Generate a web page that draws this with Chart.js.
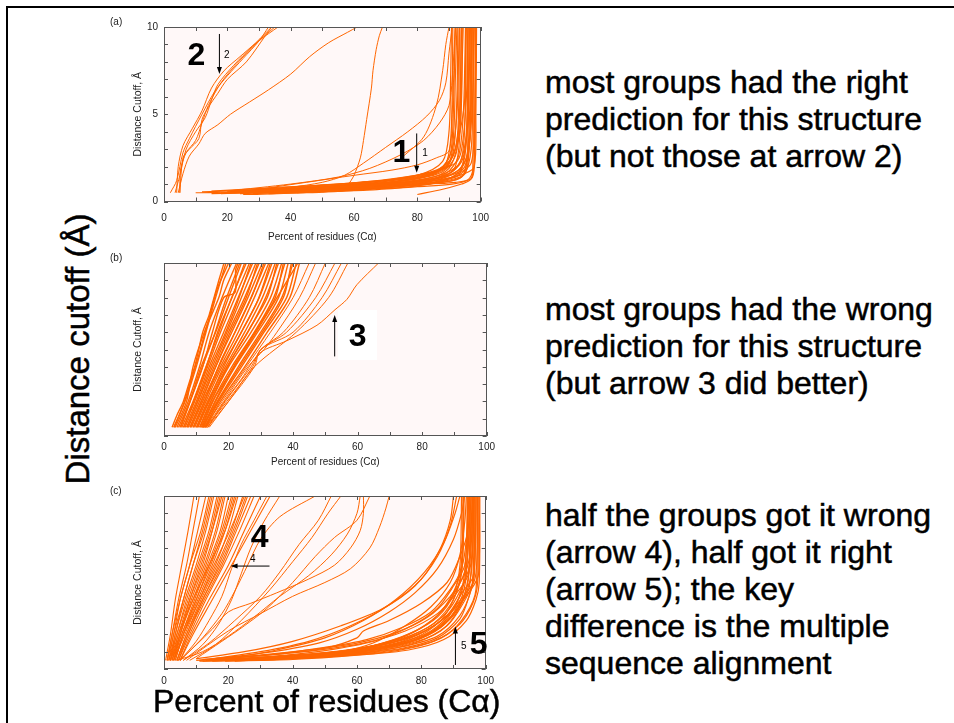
<!DOCTYPE html>
<html>
<head>
<meta charset="utf-8">
<script src="https://cdn.jsdelivr.net/npm/chart.js@4.4.1/dist/chart.umd.min.js"></script>
<style>
  body { margin: 0; width: 954px; height: 723px; background: #fff; overflow: hidden; position: relative;
         font-family: "Liberation Sans", Arial, sans-serif; }
  .frame { position: absolute; left: 6px; top: 6px; width: 960px; height: 730px;
           border-top: 2px solid #000; border-left: 2px solid #000; }
  canvas { position: absolute; left: 100px; }
  #ca { top: 0; }
  #cb { top: 250px; }
  #cc { top: 480px; }
  .ytitle { position: absolute; left: -72px; top: 329px; width: 300px; height: 40px; line-height: 40px;
            text-align: center; font-size: 33px; transform: rotate(-90deg); white-space: nowrap;
            -webkit-text-stroke: 0.5px #000; }
  .xtitle { position: absolute; left: 153px; top: 681px; height: 40px; line-height: 40px;
            font-size: 32px; white-space: nowrap; -webkit-text-stroke: 0.5px #000; }
  .note { position: absolute; left: 545px; font-size: 32px; line-height: 37px; color: #000; white-space: nowrap;
          -webkit-text-stroke: 0.5px #000; }
</style>
</head>
<body>
<div class="frame"></div>
<canvas id="ca" width="400" height="250"></canvas>
<canvas id="cb" width="400" height="230"></canvas>
<canvas id="cc" width="400" height="243"></canvas>
<div class="ytitle">Distance cutoff (Å)</div>
<div class="xtitle">Percent of residues (Cα)</div>
<div class="note" style="top:64px">most groups had the right<br>prediction for this structure<br>(but not those at arrow 2)</div>
<div class="note" style="top:291px">most groups had the wrong<br>prediction for this structure<br>(but arrow 3 did better)</div>
<div class="note" style="top:497px">half the groups got it wrong<br>(arrow 4), half got it right<br>(arrow 5); the key<br>difference is the multiple<br>sequence alignment</div>
<script>
// axis ticks
const xTickLabels = [0, 20, 40, 60, 80, 100];
const yTickLabelsA = [0, 5, 10];
const xFrameTicks = [0, 10, 20, 30, 40, 50, 60, 70, 80, 90, 100];
const yFrameTicks = [0, 1, 2, 3, 4, 5, 6, 7, 8, 9, 10];

// (a) percent of residues vs distance cutoff, one curve per group
const aArrow2 = [
  [[2,0.5],[4,1.2],[6,2.8],[8,3.6],[12,5],[16,6.3],[20,7.2],[25,8.2],[30,9.2],[33,10]],
  [[4,0.5],[4.5,2],[6,3.2],[9,4.2],[12,5.2],[15,6.5],[19,7.5],[24,8.3],[29,9.1],[34,10]],
  [[3.5,0.5],[5,1.5],[7,3],[10,4],[13,4.8],[15,5.8],[17,6.7],[22,7.8],[28,8.9],[35,10]],
  [[5,0.5],[5.2,1.8],[7,2.8],[10,3.5],[12,4.5],[14,5.5],[18,6.8],[23,7.9],[30,9.2],[36,10]],
  [[4.5,0.5],[6,1.6],[8,2.6],[11,3.3],[13,3.9],[17,4.4],[21,5],[27,5.7],[33,6.4],[40,7.3],[46,8.3],[52,9.1],[58,9.7],[61,10]],
  [[5,0.5],[6,2.5],[8,3],[11,3.6],[12,4.7],[14,5.4],[17,6.2],[20,7],[26,8],[32,9.5],[34,10]]
];
const aMiddle = [
  [[58,0.9],[60,1.5],[62,2.5],[63,3.5],[64,4.7],[65.5,6.5],[66,7.5],[67,8.7],[68,9.5],[69,10]],
  [[40,0.8],[50,1.1],[57,1.5],[63,2.2],[70,3.1],[77,4],[83,4.9],[87,5.8],[89,6.8],[90,8.5],[91,10]],
  [[30,0.7],[45,1.1],[60,1.5],[72,1.8],[80,2.1],[86,2.5],[90,2.9],[91,5],[92,10]],
  [[20,0.6],[40,1],[55,1.4],[65,1.9],[75,2.7],[82,3.5],[87,4.5],[90,5.5],[91,7],[92,10]],
  [[75,2.5],[82,3.7],[86,5.5],[88,7.5],[89,9],[90,10]]
];
const aBundle = [
  [[10,0.5],[30,0.6],[50,0.8],[70,1],[85,1.2],[93,1.5],[95,3],[96,6],[96.5,10]],
  [[15,0.45],[35,0.55],[55,0.7],[75,0.9],[88,1.1],[94,1.4],[96,2.5],[97,5],[97.2,10]],
  [[20,0.5],[40,0.65],[60,0.85],[78,1.1],[88,1.4],[92,2],[93.5,4],[94,7],[94.5,10]],
  [[25,0.4],[45,0.5],[65,0.7],[80,0.9],[90,1.3],[95,1.8],[96,4],[96.5,8],[96.8,10]],
  [[12,0.55],[32,0.7],[52,0.95],[70,1.2],[84,1.5],[90,2.2],[91.5,4],[92,7],[92.5,10]],
  [[28,0.45],[48,0.6],[68,0.8],[82,1],[91,1.2],[95,1.6],[97,3],[97.5,6],[97.8,10]],
  [[22,0.5],[42,0.6],[62,0.75],[79,1],[89,1.6],[93,2.6],[94.5,5],[95,8],[95.2,10]],
  [[35,0.5],[55,0.65],[72,0.85],[85,1.1],[92,1.5],[95.5,2.5],[96.5,5],[97,10]],
  [[18,0.5],[38,0.7],[58,0.9],[76,1.2],[87,1.8],[91,3],[92.5,5],[93,8],[93.3,10]],
  [[30,0.55],[50,0.75],[68,1],[83,1.3],[90,1.9],[93,3.5],[94,6],[94.2,10]],
  [[25,0.6],[45,0.8],[65,1.1],[80,1.5],[88,2.3],[90,4],[90.5,7],[90.8,10]],
  [[40,0.6],[60,0.8],[75,1],[86,1.3],[93,1.8],[96,2.8],[97.5,6],[98,10]],
  [[15,0.6],[35,0.8],[55,1],[72,1.3],[85,1.7],[92,2.2],[94,3],[95.5,6],[96,10]],
  [[33,0.45],[53,0.6],[70,0.8],[84,1],[92,1.1],[97,1.3],[98,2],[98.3,6],[98.5,10]],
  [[20,0.55],[40,0.75],[60,1],[75,1.35],[86,1.8],[91,2.5],[92.5,3.5],[93.5,5],[93.8,10]],
  [[45,0.7],[62,0.9],[77,1.15],[87,1.5],[93,2.1],[95,3.2],[96,4.5],[96.2,7],[96.4,10]],
  [[27,0.5],[47,0.7],[66,0.95],[81,1.2],[90,1.6],[94,2.3],[95.5,3.5],[96,5],[95.8,7.5],[96,10]],
  [[38,0.55],[58,0.75],[74,1],[85,1.3],[91,1.7],[94,2.5],[95,4.5],[95.5,10]],
  [[50,0.8],[65,1],[78,1.3],[86,1.7],[90,2.5],[91,3.5],[91.5,6],[92,10]],
  [[55,0.7],[70,0.9],[82,1.1],[90,1.35],[95,1.6],[98,2],[98.5,5],[98.7,10]],
  [[80,0.4],[88,0.7],[94,1],[97,1.3],[98,2.5],[98.3,10]],
  [[30,0.65],[50,0.85],[67,1.05],[80,1.3],[88,1.7],[92,2.6],[93,4],[93.5,6],[94,10]],
  [[60,0.9],[72,1.1],[83,1.5],[89,2],[92,3],[94,4.5],[95,6],[95.3,10]],
  [[42,0.5],[62,0.7],[78,0.95],[88,1.2],[94,1.7],[97,2.2],[98,4],[98.5,10]],
  [[24,0.45],[44,0.55],[64,0.65],[80,0.85],[91,1],[96,1.25],[97.5,1.8],[97.5,10]],
  [[22,0.6],[42,0.85],[62,1.1],[78,1.4],[88,1.9],[92,3],[93,5],[93.3,10]],
  [[32,0.5],[52,0.7],[70,0.95],[84,1.25],[92,1.6],[95,2],[96.5,3.5],[97,6],[97.3,10]],
  [[18,0.45],[38,0.6],[58,0.75],[76,0.95],[88,1.15],[94.5,1.5],[96,2.2],[96.8,5],[97,10]],
  [[26,0.55],[46,0.75],[66,1],[81,1.35],[89,1.9],[91.5,3],[92.5,6],[92.8,10]],
  [[50,0.55],[66,0.75],[80,1],[89,1.4],[94,2],[95.5,3.5],[96,10]],
  [[36,0.65],[56,0.9],[72,1.2],[84,1.6],[89,2.2],[90.5,3.5],[91,6],[91.2,10]]
];

// (b)
const bBand = [
  [[2.5,0.5],[4,1.2],[6,2],[8,3.2],[9.5,4],[11,5.2],[12,6],[14,7],[15.5,8],[17,9],[18.6,10]],
  [[3,0.5],[6.5,2],[10,4],[13,6],[16,8],[19.2,10]],
  [[3.2,0.5],[6,1.8],[8,3],[10.5,4.5],[13.5,6.5],[16.5,8.5],[20,10]],
  [[3.5,0.5],[7,2],[9,4],[12.5,6],[17,8],[18.5,9],[21,10]],
  [[4,0.5],[7.5,2],[11,4],[14,6],[18,8],[22.5,10]],
  [[4.5,0.5],[8,2],[12,4],[15,6],[18.5,8],[22,8.3],[22.2,9.6],[23,10]],
  [[5,0.5],[8,2],[11.5,4],[16,6],[20,8],[24,10]],
  [[5.2,0.5],[8.5,2.2],[12.5,4.3],[15.5,5.8],[19,7.8],[23.5,10]],
  [[5.5,0.5],[9,2],[13,4],[17,6],[21,8],[25.5,10]],
  [[6,0.5],[9.5,2],[13.5,4],[17.5,6],[22,8],[26.5,10]],
  [[6.2,0.5],[9.2,2],[12.8,3.8],[17,6.2],[21.5,8.2],[25,10]],
  [[6.5,0.5],[10,2],[14,4],[18.5,6],[23,8],[27.5,10]],
  [[7,0.5],[10.5,2],[15,4],[19.5,6],[24,8],[28.5,10]],
  [[7.2,0.5],[10.8,2.2],[14.5,4],[18,5.5],[22.5,7.6],[27,10]],
  [[7.5,0.5],[11,2],[15.5,4],[20,6],[25,8],[29.5,10]],
  [[8,0.5],[11.5,2],[16,4],[21,6],[26,8],[30.5,10]],
  [[8.2,0.5],[11.8,2.1],[16.5,4.2],[20.5,6],[25.5,8],[29,10]],
  [[8.5,0.5],[12,2],[17,4],[22,6],[27,8],[31.5,10]],
  [[9,0.5],[12.5,2],[17.5,4],[23,6],[28,8],[32.5,10]],
  [[9.2,0.5],[13,2.2],[18,4.5],[22,6],[27.5,8.2],[31,10]],
  [[9.5,0.5],[13,2],[18,4],[24,6],[29.5,8],[33.5,10]],
  [[10,0.5],[13.5,2],[19,4],[25,6],[30.5,8],[34.5,10]],
  [[10.2,0.5],[13.8,2],[18.5,4],[24.5,6.2],[29,7.8],[33,10]],
  [[10.5,0.5],[14,2],[19.5,4],[26,6],[31.5,8],[35.5,10]],
  [[11,0.5],[14.5,2],[20,4],[27,6],[33,8],[36.5,10]],
  [[11.2,0.5],[15,2.2],[20.5,4.3],[26.5,6.2],[32,8],[35,10]],
  [[11.5,0.5],[15,2],[21,4],[28,6],[34,8],[37.5,10]],
  [[11.8,0.5],[16,2.3],[22.5,4.2],[29.5,6.3],[36,8.3],[41.5,10]],
  [[12,0.5],[16,2],[22,4],[29,6],[35.5,8],[38.5,10]],
  [[12,0.5],[16.5,2],[23,4],[30,6],[36.5,8],[40,10]],
  [[12.2,0.5],[15.8,2],[21.5,4],[28.5,6.1],[34.5,8],[37,10]],
  [[12.5,0.5],[17,2],[24,4],[31,6],[38,8],[41,10]],
  [[12.8,0.5],[17,2.1],[23.5,4],[30.5,6],[37,8],[39.5,10]],
  [[13,0.5],[17.5,2],[25,4],[32,6],[39,8],[42,10]]
];
const bFringe = [
  [[12.5,0.5],[18,2],[25.5,4],[33,6],[40,8],[45,10]],
  [[13,0.5],[18.5,2],[26,4],[31,5],[35,6],[42,8],[47,10]],
  [[13.5,0.5],[19,2],[27,4],[30,5],[37,6],[45,8],[50,10]],
  [[13,0.5],[19.5,2],[27.5,4],[30,5],[38,6],[47,8],[53,10]],
  [[13.5,0.5],[20,2],[28,4],[30,5],[40,6],[49,8],[55,10]],
  [[14,0.5],[20,2],[28,4],[41,6],[51,8],[57,10]]
];
const bArrow3 = [
  [[13.6,0.5],[18,1.8],[24,3.3],[29.7,4.8],[38,5.5],[47.4,6.4],[53,7.3],[56.7,7.9],[59.8,8.75],[66.5,10]]
];

// (c)
const cWrong = [
  [[0.5,0.5],[2,2],[3.5,4],[5.5,6],[7.5,8],[9.3,10]],
  [[1,0.5],[2.5,2],[4.5,4],[7,6],[9,8],[11,10]],
  [[1,0.5],[3,2],[5,4],[8,6],[10.5,8],[13,10]],
  [[1.5,0.5],[3,2],[6,4],[9,6],[12,8],[14.5,10]],
  [[1.5,0.5],[3.5,2],[6,4],[9,6],[12.5,8],[15,10]],
  [[2,0.5],[3.5,2],[6.5,4],[10,6],[13,8],[15.5,10]],
  [[1.5,0.5],[4,2],[7,4],[10.5,6],[14,8],[16.5,10]],
  [[2,0.5],[4,2],[7.5,4],[11,6],[14.5,8],[17,10]],
  [[2.5,0.5],[4.5,2],[8,4],[12,6],[15,8],[17.5,10]],
  [[2.5,0.5],[5,2],[8,4],[11.5,6],[15,8],[18,10]],
  [[2,0.5],[5,2],[8.5,4],[12.5,6],[16,8],[18.5,10]],
  [[3,0.5],[5,2],[9,4],[13,6],[16.5,8],[19,10]],
  [[2.5,0.5],[5.5,2],[9.5,4],[13.5,6],[17.5,8],[20,10]],
  [[3,0.5],[5.5,2],[10,4],[14,6],[18,8],[21,10]],
  [[3.5,0.5],[6,2],[10,4],[14.5,6],[18.5,8],[21.5,10]],
  [[3.5,0.5],[6,2],[10.5,4],[15,6],[19,8],[22,10]],
  [[3,0.5],[6.5,2],[11,4],[16,6],[20,8],[23,10]],
  [[4,0.5],[7,2],[11.5,4],[16.5,6],[21,8],[24.5,10]],
  [[4,0.5],[7,2],[12,4],[17,6],[21.5,8],[25.5,10]],
  [[4,0.5],[7.5,2],[12,4],[17.5,6],[22,8],[26,10]],
  [[4.5,0.5],[7.5,2],[12.5,4],[18,6],[22.5,8],[27,10]],
  [[4.5,0.5],[8,2],[13,4],[18.5,6],[23.5,8],[28,10]],
  [[5,0.5],[8.5,2],[14,4],[20,6],[25,8],[30,10]],
  [[5,0.5],[9,2],[15,4],[21,6],[27,8],[33,10]],
  [[1,0.5],[2.5,2],[5,4],[8,6],[11.5,8],[14,10]],
  [[2,0.5],[4.5,2],[9,4],[14,6],[19,8],[22.5,10]],
  [[3,0.5],[6,2],[11,4],[15.5,6],[20.5,8],[25,10]]
];
const cMiddle = [
  [[5,0.5],[12,1.8],[18,3.2],[22,4.5],[26,6],[30,7.5],[36,8.8],[47,10]],
  [[6,0.5],[14,1.5],[22,2.8],[30,4.2],[36,5.6],[42,7.2],[48,8.6],[52,10]],
  [[5,0.5],[15,2.3],[20,3.3],[27,3.8],[35,4.4],[45,5.2],[53,6],[58,7],[61,8],[62,9],[62,10]],
  [[7,0.5],[20,2.2],[30,3.2],[40,4.2],[50,5],[58,5.8],[64,7],[67,8.2],[69,9.3],[70,10]],
  [[8,0.5],[16,1.4],[24,2.8],[33,4.6],[40,6.2],[46,7.6],[51,9],[55,10]],
  [[10,0.6],[18,1.6],[25,2.5],[32,3.5],[40,5],[47,6.5],[53,7.6],[60,8.6],[64,10]],
  [[6,0.5],[12,1.4],[17,2.6],[21,4],[24,5.5],[27,7],[31,8.5],[36,10]],
  [[5,0.5],[10,1.6],[14,2.8],[18,4.2],[21,5.8],[24,7.2],[28,8.6],[32,10]],
  [[4,0.5],[12,1],[20,1.9],[28,3],[36,4.2],[45,5.4],[52,6.6],[57,7.8],[60,9],[61,10]]
];
const cRight = [
  [[11,0.45],[30,0.55],[50,0.75],[65,1],[78,1.5],[88,2.5],[93,3.8],[96,5],[96.5,7],[96.7,10]],
  [[12,0.45],[32,0.6],[52,0.85],[68,1.2],[80,1.8],[89,2.9],[93.5,4.2],[95.5,5.5],[96,7.5],[96.2,10]],
  [[14,0.5],[34,0.65],[54,0.9],[70,1.3],[82,2],[90,3.2],[94,4.6],[95,6],[95.5,10]],
  [[15,0.45],[35,0.55],[55,0.75],[72,1.05],[84,1.6],[92,2.6],[96,3.8],[97.5,5],[97.7,10]],
  [[18,0.5],[38,0.7],[57,1],[72,1.45],[83,2.2],[90,3.5],[93,5],[94,7],[94.3,10]],
  [[20,0.5],[40,0.6],[58,0.85],[74,1.2],[85,1.8],[92,2.9],[95,4.3],[96.5,5.5],[97,10]],
  [[22,0.45],[42,0.65],[60,0.95],[75,1.4],[86,2.2],[92,3.6],[94.5,5.2],[95,7],[95.2,10]],
  [[16,0.55],[36,0.75],[55,1.05],[70,1.55],[82,2.4],[89,3.7],[92,5.2],[93,7],[93.3,10]],
  [[25,0.5],[45,0.7],[62,1],[76,1.5],[86,2.4],[92,3.9],[94,5.5],[94.5,10]],
  [[13,0.5],[33,0.7],[52,0.95],[67,1.35],[79,2],[88,3.1],[93,4.5],[96,5.3],[96.8,7],[97,10]],
  [[28,0.55],[47,0.75],[64,1.1],[78,1.7],[87,2.7],[92,4.2],[94,5.8],[95.5,10]],
  [[19,0.45],[40,0.55],[60,0.8],[76,1.1],[87,1.7],[94,2.8],[97,4],[98,5],[98.2,10]],
  [[24,0.5],[44,0.65],[63,0.9],[78,1.3],[88,2],[94,3.2],[97,4.6],[97.3,10]],
  [[30,0.55],[50,0.8],[65,1.15],[78,1.8],[86,2.8],[90,4],[92.5,5.5],[93,8],[93,10]],
  [[17,0.5],[37,0.6],[57,0.85],[73,1.25],[85,1.9],[92,3.1],[95.5,4.6],[96.2,6],[96.5,10]],
  [[26,0.6],[46,0.85],[63,1.25],[75,1.9],[84,2.9],[89,4.1],[92,5.5],[92.8,7.5],[93,10]],
  [[35,0.65],[52,0.95],[66,1.4],[77,2.1],[85,3],[90,4.3],[92,6],[92.5,10]],
  [[21,0.55],[41,0.75],[61,1.05],[76,1.55],[86,2.4],[91,3.4],[95,4.8],[96,10]],
  [[14,0.55],[30,0.8],[45,1.1],[60,1.5],[72,2.1],[82,3],[89,4.2],[93,5.3],[95,6.5],[95.8,10]],
  [[18,0.6],[34,0.85],[50,1.25],[63,1.7],[74,2.4],[83,3.3],[89,4.6],[92.5,5.8],[94,7.5],[94.6,10]],
  [[22,0.55],[38,0.8],[53,1.15],[66,1.65],[77,2.5],[85,3.5],[90,4.8],[93.5,6],[94.8,10]],
  [[16,0.5],[36,0.7],[54,1],[68,1.4],[80,2.1],[88,3.1],[93,4.2],[96.5,5.1],[97.3,6.5],[97.5,10]],
  [[27,0.5],[45,0.75],[61,1.1],[74,1.6],[84,2.5],[91,3.6],[95.5,4.6],[97.8,5.5],[98,10]],
  [[32,0.6],[50,0.9],[64,1.3],[76,2],[85,3.1],[91,4.6],[94,6],[94.8,8],[95,10]],
  [[11,0.5],[28,0.75],[46,1.05],[62,1.5],[75,2.2],[85,3.2],[91,4.4],[94.5,5.4],[96,7],[96.3,10]],
  [[10,0.6],[25,1],[40,1.6],[55,2.5],[68,3.5],[78,4.8],[85,6.5],[89,8.3],[91,10]],
  [[15,0.6],[30,1],[45,1.6],[58,2.5],[70,3.7],[80,5.2],[86,7],[89,8.6],[90,10]],
  [[20,0.6],[35,1.1],[50,1.8],[62,2.8],[72,4],[81,5.6],[87,7.3],[90.5,9],[92,10]],
  [[10,0.5],[30,0.9],[48,1.5],[60,2.3],[70,3.3],[78,4.4],[85,5.8],[90,7.5],[92.5,9],[93.5,10]],
  [[40,0.7],[55,1],[65,1.5],[75,2.5],[83,3.6],[89,5],[92,6.6],[93.5,8.5],[94,10]],
  [[12,0.55],[35,0.85],[50,1.2],[60,1.8],[62,2.2],[70,2.8],[80,3.8],[88,5],[92,6.5],[94.5,8],[95,10]],
  [[45,0.75],[60,1.1],[72,1.6],[82,2.4],[88,3.3],[92,4.5],[95,6],[96,10]]
];

// annotations, in data units: arrows [x1, y1, x2(head), y2(head)], labels [text, x, y]
const notesA = {
  label: '(a)',
  arrows: [[17.5, 9.6, 17.5, 7.3], [79.8, 3.9, 79.8, 1.65]],
  big: [['2', 10.2, 8.3], ['1', 75, 2.75]],
  small: [['2', 19.8, 8.4], ['1', 82.4, 2.77]],
  boxes: []
};
const notesB = {
  label: '(b)',
  arrows: [[52.9, 4.6, 52.9, 7.0]],
  big: [['3', 60, 5.7]],
  small: [],
  boxes: [[53.9, 7.28, 66, 4.39]]
};
const notesC = {
  label: '(c)',
  arrows: [[32.8, 5.95, 20.7, 5.95], [90.6, 0.23, 90.6, 2.45]],
  big: [['4', 29.7, 7.57], ['5', 97.8, 1.39]],
  small: [['4', 27.6, 6.36], ['5', 93.2, 1.29]],
  boxes: []
};

const FONT = '"Liberation Sans", Arial, sans-serif';
const ORANGE = '#ff6600';

function drawArrow(ctx, x1, y1, x2, y2) {
  const a = Math.atan2(y2 - y1, x2 - x1), c = Math.cos(a), s = Math.sin(a);
  ctx.beginPath();
  ctx.moveTo(x1, y1);
  ctx.lineTo(x2 - 5 * c, y2 - 5 * s);
  ctx.stroke();
  ctx.beginPath();
  ctx.moveTo(x2, y2);
  ctx.lineTo(x2 - 7 * c + 2.5 * s, y2 - 7 * s - 2.5 * c);
  ctx.lineTo(x2 - 7 * c - 2.5 * s, y2 - 7 * s + 2.5 * c);
  ctx.closePath();
  ctx.fill();
}

function decor(notes) {
  return {
    id: 'decor',
    beforeDraw(chart) {
      const {ctx, chartArea: r} = chart;
      ctx.save();
      ctx.fillStyle = '#fff8f8';
      ctx.fillRect(r.left, r.top, r.right - r.left, r.bottom - r.top);
      ctx.restore();
    },
    afterDatasetsDraw(chart) {
      const {ctx, chartArea: r, scales: {x, y}} = chart;
      ctx.save();
      ctx.strokeStyle = '#555';
      ctx.lineWidth = 1;
      ctx.strokeRect(Math.round(r.left) + 0.5, Math.round(r.top) + 0.5,
        Math.round(r.right - r.left) - 1, Math.round(r.bottom - r.top) - 1);
      ctx.beginPath();
      xFrameTicks.forEach(v => {
        const px = Math.round(x.getPixelForValue(v)) + 0.5;
        ctx.moveTo(px, r.bottom); ctx.lineTo(px, r.bottom - 4);
        ctx.moveTo(px, r.top); ctx.lineTo(px, r.top + 4);
      });
      yFrameTicks.forEach(v => {
        const py = Math.round(y.getPixelForValue(v)) + 0.5;
        ctx.moveTo(r.left, py); ctx.lineTo(r.left + 4, py);
        ctx.moveTo(r.right, py); ctx.lineTo(r.right - 4, py);
      });
      ctx.stroke();
      ctx.restore();
    },
    afterDraw(chart) {
      const {ctx, chartArea: r, scales: {x, y}} = chart;
      ctx.save();
      ctx.fillStyle = '#222';
      ctx.font = '10px ' + FONT;
      ctx.textAlign = 'left';
      ctx.textBaseline = 'middle';
      ctx.fillText(notes.label, r.left - 54, r.top - 5);
      ctx.fillStyle = '#fff';
      notes.boxes.forEach(b => {
        const x1 = x.getPixelForValue(b[0]), y1 = y.getPixelForValue(b[1]);
        const x2 = x.getPixelForValue(b[2]), y2 = y.getPixelForValue(b[3]);
        ctx.fillRect(x1, y1, x2 - x1, y2 - y1);
      });
      ctx.strokeStyle = '#000';
      ctx.fillStyle = '#000';
      ctx.lineWidth = 1;
      notes.arrows.forEach(a => drawArrow(ctx,
        x.getPixelForValue(a[0]), y.getPixelForValue(a[1]),
        x.getPixelForValue(a[2]), y.getPixelForValue(a[3])));
      ctx.textAlign = 'center';
      ctx.font = 'bold 32px ' + FONT;
      notes.big.forEach(t => ctx.fillText(t[0], x.getPixelForValue(t[1]), y.getPixelForValue(t[2])));
      ctx.font = '10px ' + FONT;
      notes.small.forEach(t => ctx.fillText(t[0], x.getPixelForValue(t[1]), y.getPixelForValue(t[2])));
      ctx.restore();
    }
  };
}

// groups: [curves, line width]
function toDatasets(groups) {
  const out = [];
  groups.forEach(([g, w]) => g.forEach(curve => out.push({
    data: curve.map(p => ({x: p[0], y: p[1]})),
    showLine: true,
    borderColor: ORANGE,
    borderWidth: w,
    pointRadius: 0,
    tension: 0.3
  })));
  return out;
}

function makePanel(id, groups, notes, o) {
  new Chart(document.getElementById(id), {
    type: 'scatter',
    data: { datasets: toDatasets(groups) },
    options: {
      responsive: false,
      animation: false,
      devicePixelRatio: 1,
      layout: { padding: { left: 0, right: 13, top: o.top, bottom: 0 } },
      plugins: { legend: { display: false }, tooltip: { enabled: false } },
      scales: {
        x: {
          type: 'linear', min: 0, max: 100,
          afterBuildTicks: s => { s.ticks = xTickLabels.map(v => ({value: v})); },
          afterFit: s => { s.height = o.xh; },
          grid: { display: false, drawTicks: false },
          border: { display: false },
          ticks: { color: '#222', font: { family: FONT, size: 10 }, padding: o.tickPad, maxRotation: 0, autoSkip: false },
          title: { display: o.xTitle, text: 'Percent of residues (Cα)', color: '#222',
                   font: { family: FONT, size: 10 }, padding: { top: 0, bottom: o.titlePad } }
        },
        y: {
          type: 'linear', min: 0, max: 10,
          afterBuildTicks: s => { s.ticks = o.yLabels.map(v => ({value: v})); },
          afterFit: s => { s.width = 64; },
          grid: { display: false, drawTicks: false },
          border: { display: false },
          ticks: { color: '#222', font: { family: FONT, size: 10 }, padding: 6 },
          title: { display: true, text: 'Distance Cutoff, Å', color: '#222',
                   font: { family: FONT, size: 10.5 }, padding: { top: 31.5, bottom: 0 } }
        }
      }
    },
    plugins: [decor(notes)]
  });
}

makePanel('ca', [[aArrow2, 1], [aMiddle, 1], [aBundle, 1.2]], notesA,
  { top: 27, xh: 48.5, tickPad: 11, titlePad: 7, yLabels: yTickLabelsA, xTitle: true });
makePanel('cb', [[bBand, 1.4], [bFringe, 1], [bArrow3, 1]], notesB,
  { top: 13, xh: 44, tickPad: 5, titlePad: 12, yLabels: [], xTitle: true });
makePanel('cc', [[cWrong, 1.1], [cMiddle, 1], [cRight, 1.2]], notesC,
  { top: 16, xh: 54, tickPad: 6, titlePad: 0, yLabels: [], xTitle: false });
</script>
</body>
</html>
